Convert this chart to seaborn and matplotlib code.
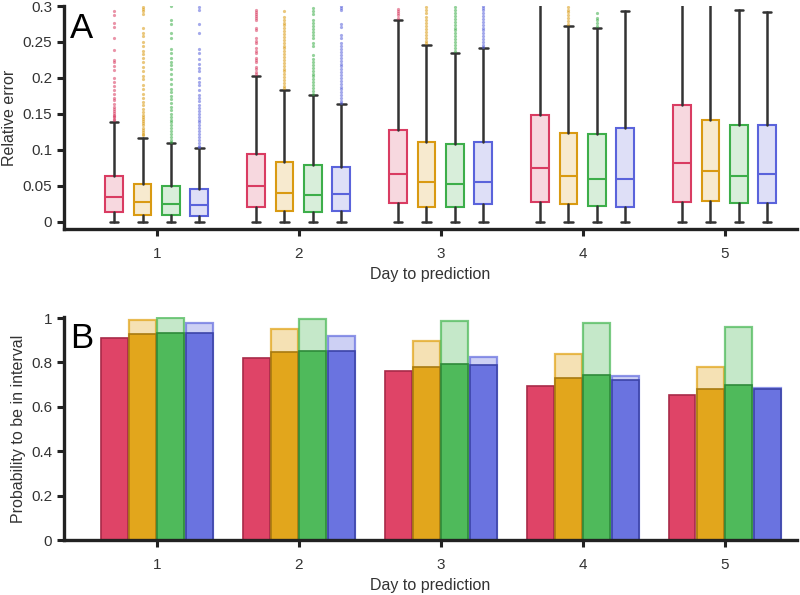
import numpy as np
import pandas as pd
import matplotlib
matplotlib.use("Agg")
import matplotlib.pyplot as plt
import seaborn as sns

# ---------------- data ----------------
days = ["1", "2", "3", "4", "5"]
models = ["M1", "M2", "M3", "M4"]

# Panel A: box statistics per model, one value per day
red_q1 = [0.014, 0.020, 0.026, 0.027, 0.027]
red_med = [0.034, 0.049, 0.067, 0.075, 0.081]
red_q3 = [0.064, 0.094, 0.128, 0.149, 0.162]
red_whi = [0.138, 0.203, 0.280, 0.320, 0.320]
gold_q1 = [0.010, 0.015, 0.021, 0.025, 0.029]
gold_med = [0.027, 0.040, 0.055, 0.064, 0.070]
gold_q3 = [0.053, 0.083, 0.111, 0.124, 0.142]
gold_whi = [0.117, 0.183, 0.246, 0.272, 0.320]
green_q1 = [0.009, 0.014, 0.020, 0.022, 0.026]
green_med = [0.024, 0.037, 0.053, 0.060, 0.064]
green_q3 = [0.050, 0.079, 0.108, 0.122, 0.135]
green_whi = [0.109, 0.176, 0.235, 0.269, 0.294]
blue_q1 = [0.008, 0.015, 0.024, 0.021, 0.026]
blue_med = [0.023, 0.039, 0.055, 0.060, 0.067]
blue_q3 = [0.046, 0.076, 0.111, 0.131, 0.135]
blue_whi = [0.102, 0.164, 0.242, 0.293, 0.291]

# outliers (visible part, below 0.3)
red_fliers = [
    [0.293, 0.287, 0.276, 0.271, 0.256, 0.239, 0.225, 0.222, 0.217, 0.211, 0.200, 0.194,
     0.189, 0.183, 0.177, 0.172, 0.169, 0.164, 0.160, 0.157, 0.154, 0.151, 0.149, 0.147,
     0.145, 0.143, 0.141],
    [0.295, 0.292, 0.289, 0.286, 0.283, 0.280, 0.270, 0.266, 0.255, 0.252, 0.248, 0.242,
     0.238, 0.235, 0.228, 0.225, 0.222, 0.215, 0.212, 0.208, 0.206],
    [0.296, 0.293, 0.290, 0.287, 0.284],
    [],
    [],
]
gold_fliers = [
    [0.299, 0.296, 0.293, 0.289, 0.270, 0.262, 0.258, 0.250, 0.245, 0.238, 0.233, 0.228,
     0.222, 0.215, 0.210, 0.203, 0.198, 0.190, 0.184, 0.178, 0.172, 0.167, 0.162, 0.157,
     0.153, 0.149, 0.146, 0.143, 0.140, 0.137, 0.134, 0.131, 0.128, 0.125, 0.122, 0.120],
    [0.293, 0.285, 0.281, 0.277, 0.273, 0.269, 0.265, 0.261, 0.257, 0.253, 0.249, 0.245,
     0.241, 0.237, 0.233, 0.229, 0.225, 0.221, 0.217, 0.213, 0.209, 0.205, 0.201, 0.197,
     0.193, 0.189, 0.186],
    [0.299, 0.295, 0.290, 0.285, 0.280, 0.276, 0.272, 0.268, 0.264, 0.260, 0.256, 0.252,
     0.249],
    [0.299, 0.295, 0.291, 0.287, 0.283, 0.279, 0.275],
    [],
]
green_fliers = [
    [0.300, 0.280, 0.275, 0.262, 0.255, 0.240, 0.235, 0.228, 0.222, 0.218, 0.212, 0.205,
     0.198, 0.192, 0.185, 0.180, 0.175, 0.170, 0.165, 0.160, 0.155, 0.150, 0.146, 0.142,
     0.138, 0.134, 0.130, 0.126, 0.122, 0.118, 0.114, 0.111],
    [0.297, 0.293, 0.289, 0.280, 0.277, 0.272, 0.268, 0.264, 0.260, 0.256, 0.248, 0.244,
     0.232, 0.226, 0.222, 0.218, 0.214, 0.210, 0.206, 0.202, 0.198, 0.194, 0.190, 0.186,
     0.182, 0.178],
    [0.298, 0.294, 0.290, 0.286, 0.282, 0.278, 0.274, 0.270, 0.266, 0.262, 0.258, 0.254,
     0.250, 0.246, 0.242, 0.238],
    [0.290, 0.284, 0.280, 0.276, 0.272],
    [],
]
blue_fliers = [
    [0.298, 0.295, 0.275, 0.262, 0.240, 0.235, 0.226, 0.220, 0.214, 0.210, 0.200, 0.195,
     0.190, 0.183, 0.176, 0.172, 0.168, 0.163, 0.158, 0.154, 0.150, 0.146, 0.142, 0.138,
     0.134, 0.130, 0.126, 0.122, 0.118, 0.114, 0.110, 0.106, 0.104],
    [0.300, 0.297, 0.294, 0.275, 0.271, 0.260, 0.256, 0.248, 0.244, 0.240, 0.236, 0.232,
     0.228, 0.224, 0.220, 0.216, 0.212, 0.208, 0.204, 0.200, 0.196, 0.192, 0.188, 0.184,
     0.180, 0.176, 0.172, 0.168, 0.165],
    [0.300, 0.297, 0.294, 0.290, 0.286, 0.282, 0.278, 0.274, 0.270, 0.266, 0.262, 0.258,
     0.254, 0.250, 0.246, 0.243],
    [],
    [],
]

# Panel B: probability to be in interval
red_inner = [0.911, 0.821, 0.761, 0.695, 0.652]
gold_inner = [0.929, 0.848, 0.778, 0.730, 0.682]
green_inner = [0.935, 0.853, 0.794, 0.742, 0.700]
blue_inner = [0.935, 0.850, 0.790, 0.721, 0.680]
red_outer = [np.nan, np.nan, np.nan, np.nan, np.nan]
gold_outer = [0.992, 0.949, 0.895, 0.836, 0.781]
green_outer = [1.000, 0.997, 0.988, 0.976, 0.959]
blue_outer = [0.980, 0.920, 0.826, 0.739, 0.683]

# ---------------- style ----------------
sns.set_theme(style="ticks")
plt.rcParams["font.family"] = ["Liberation Sans", "DejaVu Sans"]
INK = "#222222"
box_colors = ["#D93C62", "#D99A12", "#3DAE4A", "#5A63DB"]
bar_colors = ["#DF4467", "#E2A61C", "#4FBA5B", "#6A73E0"]
bar_edges = ["#A82A48", "#A87A10", "#2E8A3A", "#3C44A8"]

fig = plt.figure(figsize=(8.0, 5.95), dpi=100)
axA = fig.add_axes([64 / 800, 1 - 229 / 595, 733 / 800, 223 / 595])
axB = fig.add_axes([64 / 800, 1 - 540 / 595, 733 / 800, 223 / 595])

# ---------------- Panel A ----------------
stats_by_model = [
    (red_q1, red_med, red_q3, red_whi, red_fliers),
    (gold_q1, gold_med, gold_q3, gold_whi, gold_fliers),
    (green_q1, green_med, green_q3, green_whi, green_fliers),
    (blue_q1, blue_med, blue_q3, blue_whi, blue_fliers),
]
offsets = [-0.3, -0.1, 0.1, 0.3]
xbase = np.arange(len(days))
for m, (q1, med, q3, whi, fl) in enumerate(stats_by_model):
    col = box_colors[m]
    stats = []
    for d in range(len(days)):
        stats.append(dict(med=med[d], q1=q1[d], q3=q3[d], whislo=0.0, whishi=whi[d],
                          fliers=np.array(fl[d]), label=days[d]))
    axA.bxp(stats, positions=xbase + offsets[m], widths=0.125, capwidths=0.06,
            patch_artist=True, manage_ticks=False,
            boxprops=dict(facecolor=matplotlib.colors.to_rgba(col, 0.2), edgecolor=col, linewidth=1.5),
            medianprops=dict(color=col, linewidth=1.5),
            whiskerprops=dict(color="#333333", linewidth=1.8),
            capprops=dict(color="#333333", linewidth=1.8),
            flierprops=dict(marker="o", markersize=2.3,
                            markerfacecolor=matplotlib.colors.to_rgba(col, 0.55),
                            markeredgecolor="none"),
            zorder=3)
    # draw whiskers behind boxes
axA.set_ylim(-0.0101, 0.3)
axA.set_xlim(-0.653, 4.51)
axA.set_yticks([0, 0.05, 0.1, 0.15, 0.2, 0.25, 0.3])
axA.set_yticklabels(["0", "0.05", "0.1", "0.15", "0.2", "0.25", "0.3"])
axA.set_xticks(xbase)
axA.set_xticklabels(days)
axA.set_ylabel("Relative error", fontsize=11.5, color="#333333")
axA.set_xlabel("Day to prediction", fontsize=11.5, color="#333333")

# ---------------- Panel B ----------------
rows_outer, rows_inner = [], []
outer_vals = [red_outer, gold_outer, green_outer, blue_outer]
inner_vals = [red_inner, gold_inner, green_inner, blue_inner]
for m, name in enumerate(models):
    for d, day in enumerate(days):
        rows_outer.append(dict(day=day, model=name, value=outer_vals[m][d]))
        rows_inner.append(dict(day=day, model=name, value=inner_vals[m][d]))
df_outer = pd.DataFrame(rows_outer)
df_inner = pd.DataFrame(rows_inner)

pal_outer = {name: matplotlib.colors.to_rgba(bar_colors[i], 0.33) for i, name in enumerate(models)}
pal_inner = {name: bar_colors[i] for i, name in enumerate(models)}

sns.barplot(data=df_outer, x="day", y="value", hue="model", palette=pal_outer,
            order=days, hue_order=models, width=0.8, gap=0.05, errorbar=None,
            legend=False, ax=axB, saturation=1)
n_outer = len(axB.patches)
sns.barplot(data=df_inner, x="day", y="value", hue="model", palette=pal_inner,
            order=days, hue_order=models, width=0.8, gap=0.05, errorbar=None,
            legend=False, ax=axB, saturation=1)


def hue_index(p):
    c = p.get_x() + p.get_width() / 2
    off = c - np.round(c)
    return int(np.clip(np.round((off + 0.3) / 0.2), 0, 3))


for i, p in enumerate(axB.patches):
    k = hue_index(p)
    if i < n_outer:
        p.set_edgecolor(matplotlib.colors.to_rgba(bar_colors[k], 0.75))
        p.set_linewidth(1.6)
    else:
        p.set_edgecolor(bar_edges[k])
        p.set_linewidth(1.2)

axB.set_ylim(0, 1.005)
axB.set_xlim(-0.653, 4.51)
axB.set_yticks([0, 0.2, 0.4, 0.6, 0.8, 1.0])
axB.set_yticklabels(["0", "0.2", "0.4", "0.6", "0.8", "1"])
axB.set_ylabel("Probability to be in interval", fontsize=11.5, color="#333333")
axB.set_xlabel("Day to prediction", fontsize=11.5, color="#333333")

for ax in (axA, axB):
    sns.despine(ax=ax)
    for s in ("left", "bottom"):
        ax.spines[s].set_linewidth(2.4)
        ax.spines[s].set_color(INK)
    ax.tick_params(axis="both", width=2.2, length=5, color=INK, labelsize=11,
                   labelcolor="#333333")
    ax.tick_params(axis="x", pad=8)
    ax.set_facecolor("white")

fig.text(70 / 800, 1 - 38 / 595, "A", fontsize=25, color="black")
fig.text(70 / 800, 1 - 348 / 595, "B", fontsize=25, color="black")

fig.savefig("out.png", dpi=100, facecolor="white")
